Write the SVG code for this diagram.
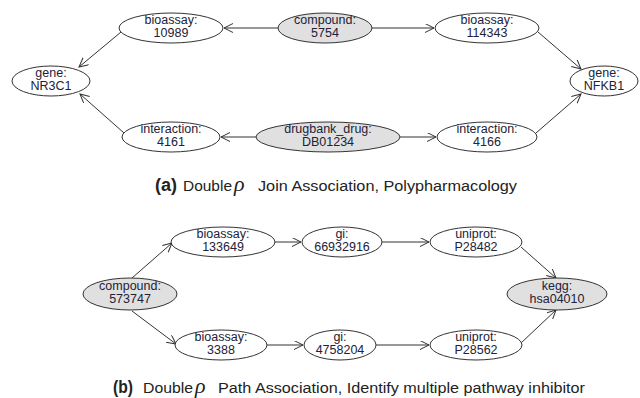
<svg xmlns="http://www.w3.org/2000/svg" width="640" height="398" viewBox="0 0 640 398">
<style>
.n ellipse{fill:#fff;stroke:#333;stroke-width:1}
.g ellipse{fill:#e0e0e0}
.n text{font-family:"Liberation Sans",Arial,sans-serif;font-size:12.5px;fill:#22223a;text-anchor:middle}
.e line{stroke:#333;stroke-width:1;marker-end:url(#arr)}
.cap{font-family:"Liberation Sans",Arial,sans-serif;font-size:15.5px;fill:#222}
.lbl{font-size:18px;font-weight:bold}
.rho{font-family:"Liberation Serif","Times New Roman",serif;font-style:italic;font-size:22px;fill:#222}
</style>
<defs>
<marker id="arr" markerUnits="userSpaceOnUse" markerWidth="12" markerHeight="12" refX="9" refY="4.5" orient="auto">
<path d="M0,0 L9,4.5 L0,9" fill="none" stroke="#333" stroke-width="1"/>
</marker>
</defs>
<rect width="640" height="398" fill="#fff"/>
<g class="e" id="connectors">
<line x1="278" y1="28" x2="224" y2="28"/>
<line x1="372" y1="28" x2="434" y2="28"/>
<line x1="121" y1="32" x2="79" y2="67"/>
<line x1="538" y1="32" x2="581" y2="69"/>
<line x1="124" y1="133" x2="80" y2="94"/>
<line x1="536" y1="133" x2="581" y2="94"/>
<line x1="256" y1="137" x2="221" y2="137"/>
<line x1="400" y1="137" x2="436" y2="137"/>
<line x1="132" y1="278" x2="172" y2="243"/>
<line x1="132" y1="311" x2="176" y2="344"/>
<line x1="275" y1="242" x2="301" y2="242"/>
<line x1="382" y1="242" x2="429" y2="242"/>
<line x1="521" y1="247" x2="556" y2="278"/>
<line x1="267" y1="345" x2="303" y2="345"/>
<line x1="376" y1="345" x2="429" y2="345"/>
<line x1="521" y1="343" x2="556" y2="310"/>
</g>
<g class="n" id="gene_NR3C1"><ellipse cx="51" cy="81" rx="39" ry="15"/><text x="51" y="77">gene:</text><text x="51" y="90">NR3C1</text></g>
<g class="n" id="bioassay_10989"><ellipse cx="171" cy="28" rx="52" ry="15"/><text x="171" y="24">bioassay:</text><text x="171" y="37">10989</text></g>
<g class="n g" id="compound_5754"><ellipse cx="325" cy="28" rx="47" ry="15"/><text x="325" y="24">compound:</text><text x="325" y="37">5754</text></g>
<g class="n" id="bioassay_114343"><ellipse cx="487" cy="28" rx="52" ry="15"/><text x="487" y="24">bioassay:</text><text x="487" y="37">114343</text></g>
<g class="n" id="gene_NFKB1"><ellipse cx="604" cy="81" rx="34" ry="15"/><text x="604" y="77">gene:</text><text x="604" y="90">NFKB1</text></g>
<g class="n" id="interaction_4161"><ellipse cx="171" cy="137" rx="49" ry="15"/><text x="171" y="133">interaction:</text><text x="171" y="146">4161</text></g>
<g class="n g" id="drugbank_DB01234"><ellipse cx="328" cy="137" rx="72" ry="15"/><text x="328" y="133">drugbank_drug:</text><text x="328" y="146">DB01234</text></g>
<g class="n" id="interaction_4166"><ellipse cx="487" cy="137" rx="50" ry="15"/><text x="487" y="133">interaction:</text><text x="487" y="146">4166</text></g>
<g id="caption_a">
<text class="cap lbl" x="155" y="191" textLength="22" lengthAdjust="spacingAndGlyphs">(a)</text>
<text class="cap" x="183" y="191" textLength="49" lengthAdjust="spacingAndGlyphs">Double</text>
<text class="rho" x="234" y="191">ρ</text>
<text class="cap" x="258" y="191" textLength="259" lengthAdjust="spacingAndGlyphs">Join Association, Polypharmacology</text>
</g>
<g class="n g" id="compound_573747"><ellipse cx="130" cy="294" rx="47" ry="16"/><text x="130" y="290">compound:</text><text x="130" y="303">573747</text></g>
<g class="n" id="bioassay_133649"><ellipse cx="223" cy="242" rx="52" ry="15"/><text x="223" y="238">bioassay:</text><text x="223" y="251">133649</text></g>
<g class="n" id="gi_66932916"><ellipse cx="342" cy="242" rx="40" ry="15"/><text x="342" y="238">gi:</text><text x="342" y="251">66932916</text></g>
<g class="n" id="uniprot_P28482"><ellipse cx="476" cy="242" rx="46" ry="15"/><text x="476" y="238">uniprot:</text><text x="476" y="251">P28482</text></g>
<g class="n g" id="kegg_hsa04010"><ellipse cx="557" cy="294" rx="50" ry="16"/><text x="557" y="290">kegg:</text><text x="557" y="303">hsa04010</text></g>
<g class="n" id="bioassay_3388"><ellipse cx="221" cy="345" rx="46" ry="15"/><text x="221" y="341">bioassay:</text><text x="221" y="354">3388</text></g>
<g class="n" id="gi_4758204"><ellipse cx="340" cy="345" rx="36" ry="15"/><text x="340" y="341">gi:</text><text x="340" y="354">4758204</text></g>
<g class="n" id="uniprot_P28562"><ellipse cx="476" cy="345" rx="46" ry="15"/><text x="476" y="341">uniprot:</text><text x="476" y="354">P28562</text></g>
<g id="caption_b">
<text class="cap lbl" x="113" y="393" textLength="20" lengthAdjust="spacingAndGlyphs">(b)</text>
<text class="cap" x="143" y="393" textLength="50" lengthAdjust="spacingAndGlyphs">Double</text>
<text class="rho" x="195" y="393">ρ</text>
<text class="cap" x="218" y="393" textLength="367" lengthAdjust="spacingAndGlyphs">Path Association, Identify multiple pathway inhibitor</text>
</g>
</svg>
